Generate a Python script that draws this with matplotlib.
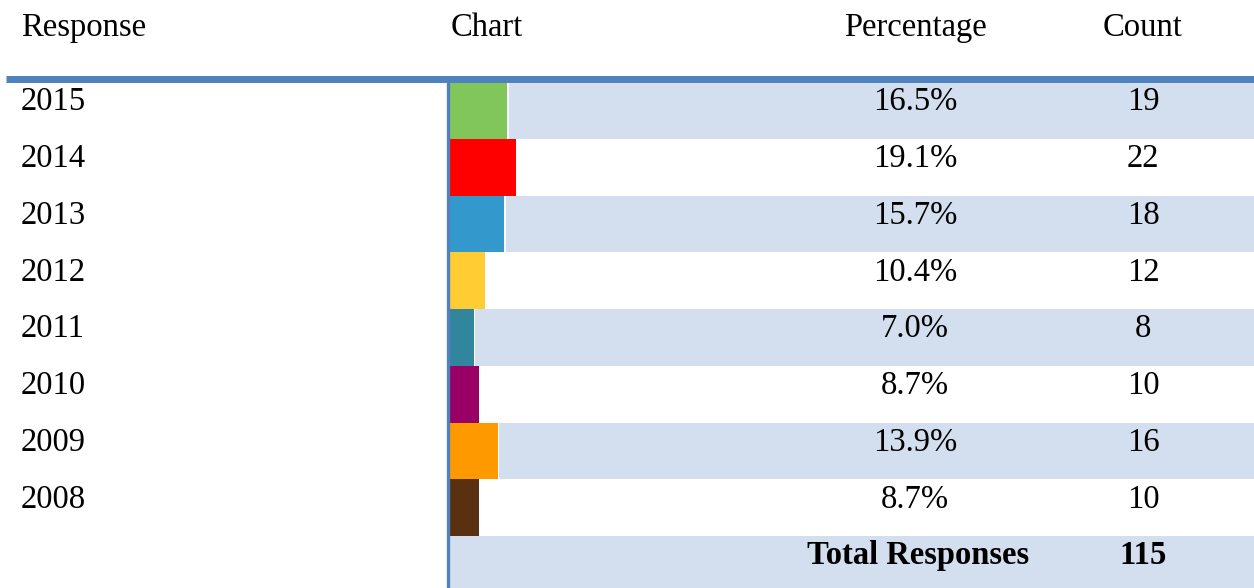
import matplotlib
matplotlib.use('Agg')
import matplotlib.pyplot as plt
import matplotlib.transforms as mtransforms
from matplotlib.lines import Line2D

plt.rcParams.update({'font.family': ['Liberation Serif', 'DejaVu Serif'], 'font.size': 23.5})

# data
years = ['2015', '2014', '2013', '2012', '2011', '2010', '2009', '2008']
percent = [16.5, 19.1, 15.7, 10.4, 7.0, 8.7, 13.9, 8.7]
counts = [19, 22, 18, 12, 8, 10, 16, 10]
total = 115
headers = ['Response', 'Chart', 'Percentage', 'Count']
bar_colors = ['#80C65A', '#FF0000', '#3399CC', '#FFCC33', '#31859C', '#990066', '#FF9900', '#5A3012']

SHADE = '#D3DFEE'
BLUE = '#4F81BD'
W, H = 1254, 588

fig = plt.figure(figsize=(W / 100, H / 100), dpi=100)
fig.patch.set_facecolor('white')

# chart column axes: x in percent, y in row index
row_h = 56.75
top = 82
ax = fig.add_axes([449 / W, 0, (W - 449) / W, (H - top) / H])
ax.set_xlim(0, (W - 449) / 3.5)
ax.set_ylim(-0.5 + (H - top) / row_h, -0.5)
ax.axis('off')

n = len(years)
for i in range(0, n + 1, 2):
    ax.axhspan(i - 0.5, i + 0.5, color=SHADE, zorder=0, lw=0)

idx = list(range(n))
ax.barh(idx, [p + 0.5 for p in percent], height=1.0, color='white', zorder=1, lw=0)
ax.barh(idx, percent, height=1.0, color=bar_colors, zorder=2, lw=0)

trans = mtransforms.blended_transform_factory(fig.transFigure, ax.transData)
for i, (y, p, c) in enumerate(zip(years, percent, counts)):
    ax.text(21 / W, i, y, transform=trans, ha='left', va='baseline', clip_on=False)
    ax.text(915 / W, i, f'{p:.1f}%', transform=trans, ha='center', va='baseline', clip_on=False)
    ax.text(1143 / W, i, str(c), transform=trans, ha='center', va='baseline', clip_on=False)
ax.text(918 / W, n, 'Total Responses', transform=trans, ha='center', va='baseline',
        fontweight='bold', clip_on=False)
ax.text(1143 / W, n, str(total), transform=trans, ha='center', va='baseline',
        fontweight='bold', clip_on=False)

# header row
hx = [(21, 'left'), (451, 'left'), (915, 'center'), (1143, 'center')]
for (x, ha), h in zip(hx, headers):
    fig.text(x / W, 1 - 36 / H, h, ha=ha, va='baseline')

# rules
fig.add_artist(Line2D([6 / W, 1], [1 - 78.5 / H] * 2, color=BLUE, lw=5.0, solid_capstyle='butt'))
fig.add_artist(Line2D([447.5 / W] * 2, [0, 1 - 80 / H], color=BLUE, lw=2.4, solid_capstyle='butt'))

fig.savefig('out.png', dpi=100)
